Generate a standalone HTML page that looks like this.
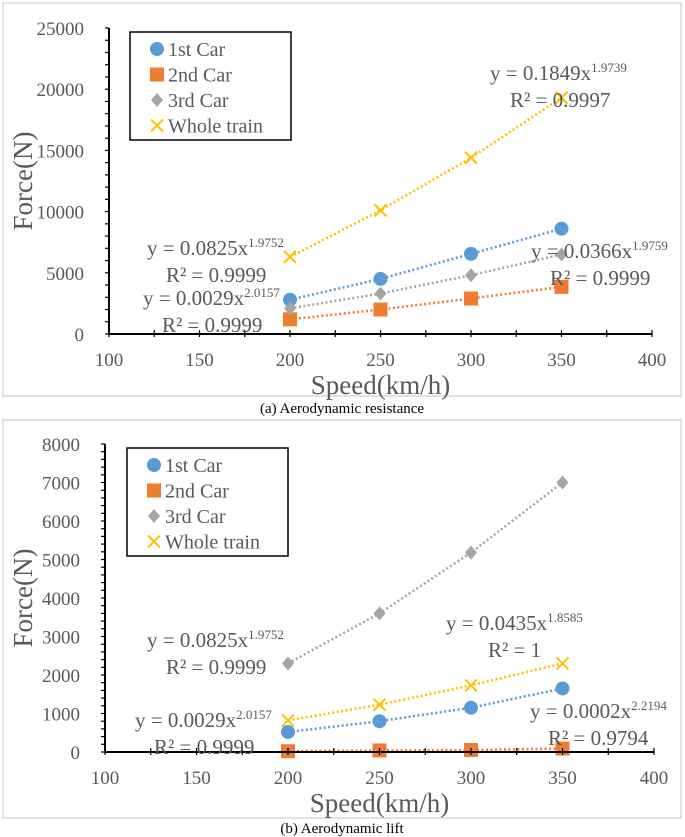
<!DOCTYPE html>
<html><head><meta charset="utf-8"><style>
body{margin:0;background:#fff;}
svg{display:block;font-family:"Liberation Serif",serif;}
</style></head><body>
<svg id="s" width="685" height="837">
<rect x="3" y="3" width="678" height="393" fill="none" stroke="#d9d9d9" stroke-width="1.5"/>
<rect x="3" y="420" width="678" height="398" fill="none" stroke="#d9d9d9" stroke-width="1.5"/>
<text x="342" y="413" font-size="15" text-anchor="middle" fill="#000">(a) Aerodynamic resistance</text>
<text x="342" y="833" font-size="15" text-anchor="middle" fill="#000">(b) Aerodynamic lift</text>
</svg>
<script>
const speeds=[200,250,300,350];
const xTicks=[100,150,200,250,300,350,400];
const seriesNames=["1st Car","2nd Car","3rd Car","Whole train"];
const aFirst=[2800,4500,6550,8600];
const aSecond=[1200,2000,2900,3850];
const aThird=[2100,3300,4800,6500];
const aWhole=[6300,10100,14400,19300];
const aYTicks=[0,5000,10000,15000,20000,25000];
const bFirst=[520,800,1150,1650];
const bSecond=[20,40,50,90];
const bThird=[2300,3600,5180,7000];
const bWhole=[820,1230,1730,2300];
const bYTicks=[0,1000,2000,3000,4000,5000,6000,7000,8000];
const colors=["#5B9BD5","#ED7D31","#A5A5A5","#FFC000"];
const svg=document.getElementById('s');
const NS="http://www.w3.org/2000/svg";
function mk(tag,at,parent){const e=document.createElementNS(NS,tag);for(const k in at)e.setAttribute(k,at[k]);(parent||svg).appendChild(e);return e;}
function marker(g,k,x,y){
 let e;
 if(k===0)e=mk('circle',{cx:x,cy:y,r:7,fill:colors[0]},g);
 else if(k===1)e=mk('rect',{x:x-7,y:y-7,width:14,height:14,fill:colors[1]},g);
 else if(k===2)e=mk('path',{d:`M${x} ${y-7}L${x+6} ${y}L${x} ${y+7}L${x-6} ${y}Z`,fill:colors[2]},g);
 else e=mk('path',{d:`M${x-6} ${y-6}L${x+6} ${y+6}M${x+6} ${y-6}L${x-6} ${y+6}`,stroke:colors[3],'stroke-width':2,fill:'none'},g);
 return e;
}
function chart(p,id,data,yTicks,minor,notes){
 const xs=v=>p.x0+(v-100)/300*(p.x1-p.x0);
 const ymax=yTicks[yTicks.length-1];
 const ys=v=>p.y0-v/ymax*(p.y0-p.y1);
 const g=mk('g',{});
 
 
 data.forEach((arr,k)=>{
  const sg=mk('g',{},g);
  
  
  const pts=speeds.map((s,i)=>xs(s)+','+ys(arr[i])).join(' ');
  mk('polyline',{points:pts,fill:'none',stroke:colors[k],'stroke-width':2.5,'stroke-dasharray':'2 2.5'},sg);
  speeds.forEach((s,i)=>{const m=marker(sg,k,xs(s),ys(arr[i]));
   
   });
 });
 mk('line',{x1:p.x0,y1:p.y0,x2:p.x1,y2:p.y0,stroke:'#000','stroke-width':2},g);
 mk('line',{x1:p.x0,y1:p.y0,x2:p.x0,y2:p.y1,stroke:'#000','stroke-width':2},g);
 for(let v=0;v<=ymax;v+=minor){mk('line',{x1:p.x0-4,y1:ys(v),x2:p.x0,y2:ys(v),stroke:'#000','stroke-width':1.2},g);}
 for(let v=100;v<=400;v+=25){mk('line',{x1:xs(v),y1:p.y0-4,x2:xs(v),y2:p.y0+3,stroke:'#000','stroke-width':1.2},g);}
 yTicks.forEach(v=>{const t=mk('text',{x:p.x0-25,y:ys(v)+7,'font-size':19,'text-anchor':'end',fill:'#595959'},g);t.textContent=v;
  });
 xTicks.forEach(v=>{const t=mk('text',{x:xs(v),y:p.y0+32,'font-size':19,'text-anchor':'middle',fill:'#595959'},g);t.textContent=v;
  });
 const xt=mk('text',{x:(p.x0+p.x1)/2,y:p.y0+60,'font-size':27,'text-anchor':'middle',fill:'#595959'},g);xt.textContent='Speed(km/h)';
 
 const cy=(p.y0+p.y1)/2;
 const yt=mk('text',{x:32,y:cy,'font-size':27,'text-anchor':'middle',fill:'#595959',transform:`rotate(-90 32 ${cy})`},g);yt.textContent='Force(N)';
 
 const lg=mk('g',{},g);
 
 mk('rect',{x:p.lx,y:p.ly,width:161,height:108,fill:'#fff',stroke:'#000','stroke-width':1.5},lg);
 seriesNames.forEach((n,k)=>{const yy=p.ly+17+k*25.5;marker(lg,k,p.lx+27,yy);
  const t=mk('text',{x:p.lx+38,y:yy+7,'font-size':20,fill:'#595959'},lg);t.textContent=n;
  });
 notes.forEach(n=>{
  const t=mk('text',{x:n[0],y:n[1],'font-size':21,fill:'#595959'},g);
  t.innerHTML=`y = ${n[2]}x<tspan dy="-8" font-size="13">${n[3]}</tspan>`;
  
  const r=mk('text',{x:n[0]+n[4],y:n[1]+27,'font-size':21,fill:'#595959'},g);
  r.textContent=`R² = ${n[5]}`;
  
 });
}
chart({x0:109,x1:652,y0:334,y1:28,lx:130,ly:32},'resistance',[aFirst,aSecond,aThird,aWhole],aYTicks,1000,[
 [490,80,'0.1849','1.9739',20,'0.9997'],
 [147,255,'0.0825','1.9752',19,'0.9999'],
 [531,258,'0.0366','1.9759',19,'0.9999'],
 [143,305,'0.0029','2.0157',19,'0.9999']]);
chart({x0:105,x1:654,y0:752,y1:444,lx:127,ly:448},'lift',[bFirst,bSecond,bThird,bWhole],bYTicks,200,[
 [147,647,'0.0825','1.9752',19,'0.9999'],
 [446,630,'0.0435','1.8585',42,'1'],
 [530,718,'0.0002','2.2194',18,'0.9794'],
 [135,727,'0.0029','2.0157',19,'0.9999']]);
</script>
</body></html>
